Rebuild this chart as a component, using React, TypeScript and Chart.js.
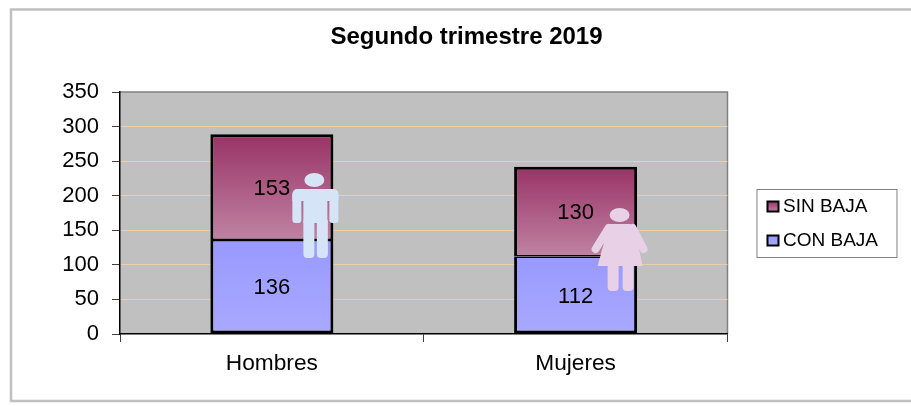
import React, { useEffect, useRef } from "react";
import { Chart, registerables } from "chart.js";

Chart.register(...registerables);

const categories = ["Hombres", "Mujeres"];
const conBaja = [136, 112];
const sinBaja = [153, 130];
const seriesNames = ["CON BAJA", "SIN BAJA"];
const yMax = 350;
const yStep = 50;
const chartTitle = "Segundo trimestre 2019";

const FONT = "'Liberation Sans', Arial, sans-serif";
const W = 911;
const H = 406;

type Stop = [string, string];
const sinStops: Stop = ["#993366", "#bf83a3"];
const conStops: Stop = ["#9999ff", "#a9a9ff"];

function barGradient(stops: Stop, low: (i: number) => number, high: (i: number) => number) {
  return (c: any) => {
    const { chart, dataIndex } = c;
    const y = chart.scales.y;
    if (!y || dataIndex === undefined) return stops[0];
    const g = chart.ctx.createLinearGradient(0, y.getPixelForValue(high(dataIndex)), 0, y.getPixelForValue(low(dataIndex)));
    g.addColorStop(0, stops[0]);
    g.addColorStop(1, stops[1]);
    return g;
  };
}

function roundedBar(ctx: CanvasRenderingContext2D, x: number, y: number, w: number, h: number, r: number) {
  ctx.beginPath();
  ctx.roundRect(x, y, w, h, r);
  ctx.fill();
}

function drawMan(ctx: CanvasRenderingContext2D, x: number, y: number) {
  ctx.save();
  ctx.translate(x, y);
  ctx.fillStyle = "#d6e4f7";
  ctx.beginPath();
  ctx.ellipse(0, -8, 10, 7, 0, 0, Math.PI * 2);
  ctx.fill();
  // shoulders
  ctx.beginPath();
  ctx.roundRect(-22, 1, 46, 12, [5, 5, 0, 0]);
  ctx.fill();
  // arms
  roundedBar(ctx, -22, 4, 9, 31, 3);
  roundedBar(ctx, 15, 4, 9, 31, 3);
  // torso
  ctx.fillRect(-11, 5, 24, 30);
  // legs
  roundedBar(ctx, -11, 30, 11, 40, 4);
  roundedBar(ctx, 2.5, 30, 11, 40, 4);
  ctx.restore();
}

function drawWoman(ctx: CanvasRenderingContext2D, x: number, y: number) {
  ctx.save();
  ctx.translate(x, y);
  ctx.fillStyle = "#e8d0e6";
  ctx.beginPath();
  ctx.ellipse(0, -8, 10, 7, 0, 0, Math.PI * 2);
  ctx.fill();
  // dress
  ctx.beginPath();
  ctx.moveTo(-11, 1);
  ctx.lineTo(11, 1);
  ctx.lineTo(16, 10);
  ctx.lineTo(23, 43);
  ctx.lineTo(-22, 43);
  ctx.lineTo(-13, 10);
  ctx.closePath();
  ctx.fill();
  // arms
  ctx.strokeStyle = "#e8d0e6";
  ctx.lineWidth = 8;
  ctx.lineCap = "round";
  ctx.beginPath();
  ctx.moveTo(-11, 5);
  ctx.lineTo(-24, 26);
  ctx.moveTo(13, 5);
  ctx.lineTo(24, 26);
  ctx.stroke();
  // legs
  roundedBar(ctx, -12, 40, 11, 28, 4);
  roundedBar(ctx, 3, 40, 11, 28, 4);
  ctx.restore();
}

const paintPlugin = {
  id: "paint",
  afterLayout(chart: any) {
    const l = chart.legend;
    const a = chart.chartArea;
    const lw = l.right - l.left;
    l.left = a.right + 25;
    l.right = l.left + lw;
    l.top = a.top + 90;
    l.bottom = l.top + 110;
    // centre the title over the reference's position
    const t = chart.titleBlock;
    const shift = 466.5 - (t.left + t.right) / 2;
    t.left += shift;
    t.right += shift;
  },
  beforeDraw(chart: any) {
    const { ctx, chartArea: a } = chart;
    ctx.save();
    ctx.fillStyle = "#ffffff";
    ctx.fillRect(0, 0, W, H);
    // outer frame, open on the right
    ctx.strokeStyle = "#c0c0c0";
    ctx.lineWidth = 2.5;
    ctx.beginPath();
    ctx.moveTo(W, 9.5);
    ctx.lineTo(11, 9.5);
    ctx.lineTo(11, 401);
    ctx.lineTo(W, 401);
    ctx.stroke();
    // plot area
    ctx.fillStyle = "#c0c0c0";
    ctx.fillRect(a.left, a.top, a.right - a.left, a.bottom - a.top);
    ctx.strokeStyle = "#808080";
    ctx.lineWidth = 1.5;
    ctx.beginPath();
    ctx.moveTo(a.left, a.top);
    ctx.lineTo(a.right, a.top);
    ctx.lineTo(a.right, a.bottom);
    ctx.stroke();
    // legend frame
    ctx.fillStyle = "#ffffff";
    ctx.strokeStyle = "#808080";
    ctx.lineWidth = 1;
    const fx = a.right + 30;
    const fy = a.top + 97;
    ctx.fillRect(fx, fy, 140, 69);
    ctx.strokeRect(fx - 0.5, fy + 0.5, 140, 68);
    ctx.restore();
  },
  afterDraw(chart: any) {
    const { ctx, scales } = chart;
    ctx.save();
    // value labels
    ctx.fillStyle = "#000000";
    ctx.font = `22px ${FONT}`;
    ctx.textAlign = "center";
    ctx.textBaseline = "middle";
    chart.data.datasets.forEach((ds: any, di: number) => {
      chart.getDatasetMeta(di).data.forEach((bar: any, i: number) => {
        ctx.fillText(String(ds.data[i]), bar.x, (bar.y + bar.base) / 2 + 1.5);
      });
    });
    // legend swatches
    const l = chart.legend;
    const swatchLeft = l.left + 15;
    l.legendItems.forEach((item: any, i: number) => {
      const stops = item.text === seriesNames[1] ? sinStops : conStops;
      const cy = l.legendHitBoxes[i].top + l.legendHitBoxes[i].height / 2;
      const g = ctx.createLinearGradient(0, cy - 5, 0, cy + 5);
      g.addColorStop(0, stops[0]);
      g.addColorStop(1, stops[1]);
      ctx.fillStyle = g;
      ctx.strokeStyle = "#000000";
      ctx.lineWidth = 2;
      ctx.fillRect(swatchLeft, cy - 5, 11, 10);
      ctx.strokeRect(swatchLeft, cy - 5, 11, 10);
    });
    // pictograms placed from the category centres and the stacked scale
    drawMan(ctx, scales.x.getPixelForValue(0) + 42.5, scales.y.getPixelForValue(0) - 146);
    drawWoman(ctx, scales.x.getPixelForValue(1) + 44, scales.y.getPixelForValue(0) - 111);
    ctx.restore();
  },
};

export default function App() {
  const ref = useRef<HTMLCanvasElement>(null);
  useEffect(() => {
    const chart = new Chart(ref.current as HTMLCanvasElement, {
      type: "bar",
      data: {
        labels: categories,
        datasets: [
          {
            label: seriesNames[0],
            data: conBaja,
            backgroundColor: barGradient(conStops, () => 0, (i) => conBaja[i]),
            borderColor: "#000000",
            borderWidth: { top: 1.5, left: 3, right: 3, bottom: 3 },
            borderSkipped: false,
            categoryPercentage: 1,
            barPercentage: 0.405,
          },
          {
            label: seriesNames[1],
            data: sinBaja,
            backgroundColor: barGradient(sinStops, (i) => conBaja[i], (i) => conBaja[i] + sinBaja[i]),
            borderColor: "#000000",
            borderWidth: { top: 3, left: 3, right: 3, bottom: 1.5 },
            borderSkipped: false,
            categoryPercentage: 1,
            barPercentage: 0.405,
          },
        ],
      },
      options: {
        responsive: false,
        animation: false,
        layout: { padding: { left: 36, right: 48, top: 0, bottom: 0 } },
        plugins: {
          title: {
            display: true,
            text: chartTitle,
            color: "#000000",
            font: { family: FONT, size: 24, weight: "bold", lineHeight: 1.2 },
            padding: { top: 23, bottom: 40.2 },
          },
          legend: {
            display: true,
            position: "right",
            align: "start",
            reverse: true,
            labels: {
              color: "#000000",
              font: { family: FONT, size: 19, lineHeight: 22 / 19 },
              boxWidth: 6,
              boxHeight: 0,
              padding: 15,
              generateLabels: (c: any) =>
                c.data.datasets.map((d: any, i: number) => ({
                  text: d.label,
                  datasetIndex: i,
                  fillStyle: "transparent",
                  strokeStyle: "transparent",
                  lineWidth: 0,
                  fontColor: "#000000",
                })),
            },
          },
          tooltip: { enabled: false },
        },
        scales: {
          x: {
            stacked: true,
            afterFit: (s: any) => {
              s.height = H - 334;
            },
            grid: {
              offset: true,
              drawOnChartArea: false,
              drawTicks: true,
              tickLength: 8,
              tickColor: "#404040",
            },
            border: { display: true, color: "#000000", width: 1.5 },
            ticks: {
              color: "#000000",
              font: { family: FONT, size: 22.7 },
              padding: 8,
              maxRotation: 0,
            },
          },
          y: {
            stacked: true,
            min: 0,
            max: yMax,
            afterFit: (s: any) => {
              s.width = 120 - 36;
            },
            grid: {
              color: (c: any) =>
                c.tick && (c.tick.value === 0 || c.tick.value === yMax) ? "transparent" : "#eccfa8",
              lineWidth: 1,
              tickLength: 8,
              tickColor: "#404040",
            },
            border: { display: true, color: "#000000", width: 1.5 },
            ticks: {
              stepSize: yStep,
              color: "#000000",
              font: { family: FONT, size: 22 },
              padding: 13,
            },
          },
        },
      },
      plugins: [paintPlugin],
    } as any);
    return () => chart.destroy();
  }, []);
  return (
    <canvas
      ref={ref}
      width={W}
      height={H}
      style={{ position: "absolute", left: 0, top: 0, display: "block" }}
    />
  );
}
